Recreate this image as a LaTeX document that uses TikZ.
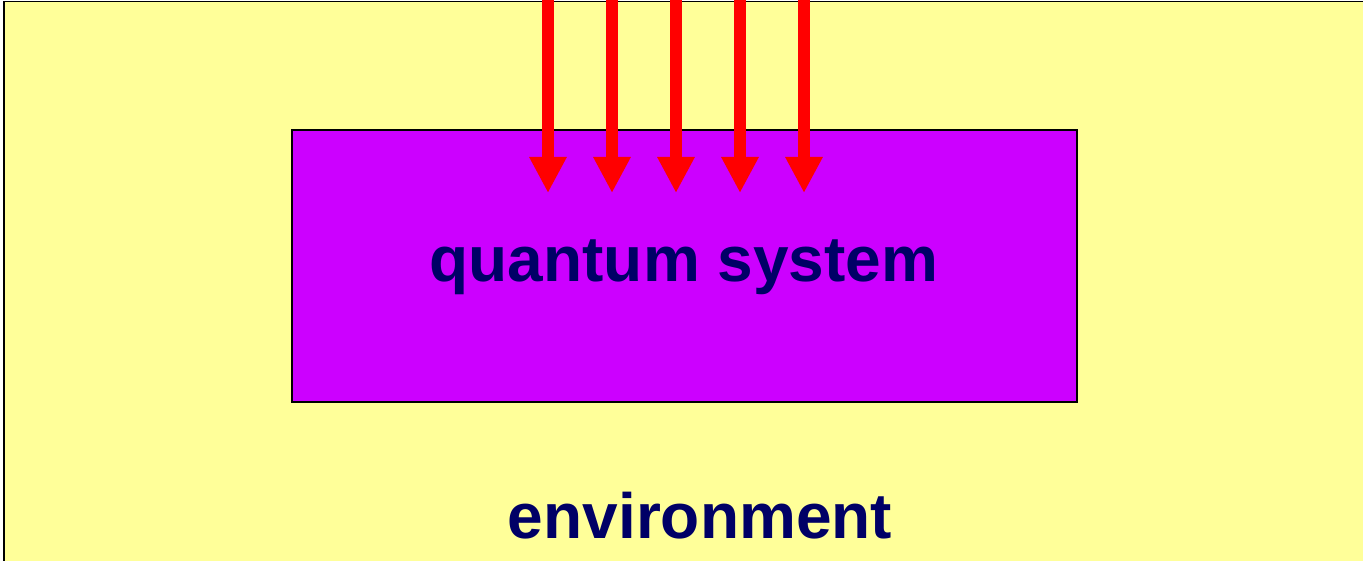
\documentclass[tikz,border=0pt]{standalone}
\usepackage{fontspec}
\setmainfont{Liberation Sans}
\usetikzlibrary{arrows.meta}
\definecolor{envyellow}{HTML}{FFFF99}
\definecolor{syspurple}{HTML}{CC00FF}
\definecolor{labelnavy}{HTML}{000066}
\definecolor{arrowred}{HTML}{FF0000}
\tikzset{
  box/.style={draw=black, line width=1.5pt, inner sep=0pt, outer sep=0pt},
  biglabel/.style={text=labelnavy, font=\fontsize{64}{70}\selectfont\bfseries, anchor=base, inner sep=0pt},
  redarrow/.style={draw=arrowred, line width=12pt, -{Triangle[width=35pt,length=36pt]}, arrowred}
}
\begin{document}
\begin{tikzpicture}[x=1pt,y=-1pt]
\useasboundingbox (0,0) rectangle (1363,561);
\fill[white] (0,0) rectangle (1363,561);
% environment
\path[box, fill=envyellow] (4,1.5) rectangle (1375,575);
\coordinate (envTL) at (4,1.5);
% quantum system
\node[box, fill=syspurple, minimum width=785pt, minimum height=272pt, anchor=north west] (sys) at (292,130) {};
% arrows
\foreach \i/\x in {1/548,2/612,3/676,4/740,5/804}{
  \coordinate (s\i) at (\x,-10);
  \coordinate (e\i) at (\x,193);
  \draw[redarrow] (s\i) -- (e\i);
}
\node[biglabel] (qs) at (684,282) {quantum system};
\node[biglabel] (env) at (700,538) {environment};
\end{tikzpicture}
\end{document}
